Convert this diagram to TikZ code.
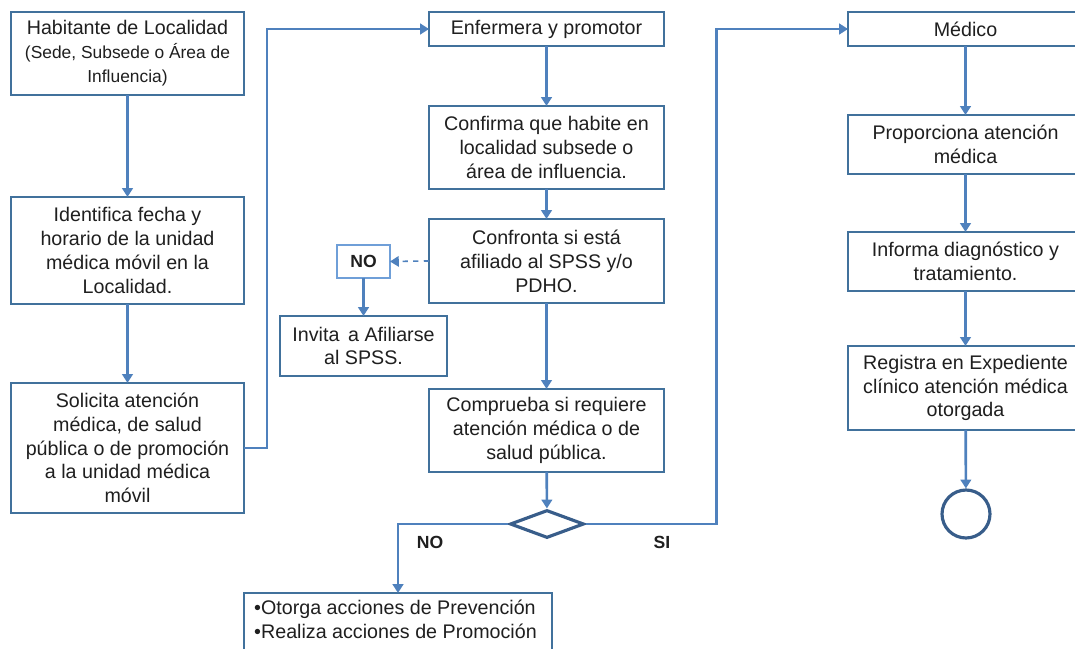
\documentclass[tikz,border=0pt]{standalone}
\usepackage{fontspec}
\setmainfont{Liberation Sans}
\usepackage{tikz}
\usetikzlibrary{positioning,calc}
\usetikzlibrary{arrows.meta,shapes.geometric}

\definecolor{boxline}{HTML}{41719C}
\definecolor{arrline}{HTML}{4F81BD}
\definecolor{noline}{HTML}{6F9FD8}
\definecolor{decline}{HTML}{385D8A}
\definecolor{txt}{HTML}{1F1F1F}

\newcommand{\boxfont}{\fontsize{11.2}{13.6}\selectfont}
\newcommand{\smallsz}{\fontsize{9.9}{13.6}\selectfont}

\tikzset{
  proc/.style={draw=boxline, line width=0.9pt, fill=white, text=txt,
    align=center, inner sep=2pt, outer sep=0pt, font=\boxfont},
  leftcol/.style={proc, minimum width=4.66cm},
  midcol/.style={proc, minimum width=4.7cm},
  rightcol/.style={proc, minimum width=4.7cm},
  nobox/.style={draw=noline, line width=0.9pt, text=txt, font=\bfseries\fontsize{10}{12}\selectfont,
    minimum width=1.06cm, minimum height=0.66cm, inner sep=1pt, outer sep=0pt},
  decision/.style={diamond, draw=decline, line width=1.8pt, minimum width=1.48cm,
    minimum height=0.56cm, inner sep=0pt},
  endc/.style={circle, draw=decline, line width=1.8pt, minimum size=0.96cm, inner sep=0pt},
  arr/.style={draw=arrline, line width=1.5pt, -{Triangle[width=6pt,length=5pt]}},
  lbl/.style={text=txt, font=\bfseries\fontsize{10}{12}\selectfont}
}

\begin{document}
\begin{tikzpicture}[x=0.02cm,y=-0.02cm]
  \clip (0,0) rectangle (1075,649);
  % left column: the inhabitant
  \node[leftcol, minimum height=1.66cm] (hab) at (127.5,53.5)
    {Habitante de Localidad\\ \smallsz (Sede, Subsede o Área de\\ \smallsz Influencia)};
  \node[leftcol, minimum height=2.14cm] (ident) [below=2.04cm of hab]
    {Identifica fecha y\\ horario de la unidad\\ médica móvil en la\\ Localidad.};
  \node[leftcol, minimum height=2.6cm] (solic) [below=1.58cm of ident]
    {Solicita atención\\ médica, de salud\\ pública o de promoción\\ a la unidad médica\\ móvil};

  % middle column: nurse and promoter
  \node[midcol, minimum height=0.68cm] (enf) at (546.5,29) {Enfermera y promotor};
  \node[midcol, minimum height=1.66cm] (conf) [below=1.2cm of enf]
    {Confirma que habite en\\ localidad subsede o\\ área de influencia.};
  \node[midcol, minimum height=1.68cm] (confr) [below=0.6cm of conf]
    {Confronta si está\\ afiliado al SPSS y/o\\ PDHO.};
  \node[midcol, minimum height=1.66cm] (compr) [below=1.72cm of confr]
    {Comprueba si requiere\\ atención médica o de\\ salud pública.};
  \node[decision] (dec) at (547,524) {};

  % not affiliated
  \node[nobox] (no) at (363.5,261.5) {NO};
  \node[proc, minimum width=3.34cm, minimum height=1.2cm] (invita) [below=0.76cm of no]
    {Invita\, a Afiliarse\\ al SPSS.};

  % outcome of the decision
  \node[proc, minimum width=6.16cm, minimum height=1.16cm] (otorga) at (398,622)
    {\hspace*{-0.1cm}\begin{tabular}{@{}l@{}}•Otorga acciones de Prevención\\ •Realiza acciones de Promoción\end{tabular}};
  \node[lbl] (nolbl) at (430,542) {NO};
  \node[lbl] (silbl) at (662,542) {SI};

  % right column: the doctor
  \node[rightcol, minimum height=0.68cm] (medico) at (965.5,29) {Médico};
  \node[rightcol, minimum height=1.18cm] (propor) [below=1.38cm of medico]
    {Proporciona atención\\ médica};
  \node[rightcol, minimum height=1.18cm] (informa) [below=1.16cm of propor]
    {Informa diagnóstico y\\ tratamiento.};
  \node[rightcol, minimum height=1.68cm] (registra) [below=1.1cm of informa]
    {Registra en Expediente\\ clínico atención médica\\ otorgada};
  \node[endc] (fin) at (966,514) {};

  % connectors
  \draw[arr] (hab) -- (ident);
  \draw[arr] (ident) -- (solic);
  \draw[arr] (solic.east) -- ++(23,0) |- (enf.west);
  \draw[arr] (enf) -- (conf);
  \draw[arr] (conf) -- (confr);
  \draw[arr, dashed, line width=0.9pt] (confr.west) -- (no.east);
  \draw[arr] (no.south) -- (no.south |- invita.north);
  \draw[arr] (confr) -- (compr);
  \draw[arr] (compr) -- (dec);
  \draw[arr] (dec.west) -| (otorga.north);
  \draw[arr] (dec.east) -- ++(131,0) |- (medico.west);
  \draw[arr] (medico) -- (propor);
  \draw[arr] (propor) -- (informa);
  \draw[arr] (informa) -- (registra);
  \draw[arr] (registra) -- (fin);
\end{tikzpicture}
\end{document}
